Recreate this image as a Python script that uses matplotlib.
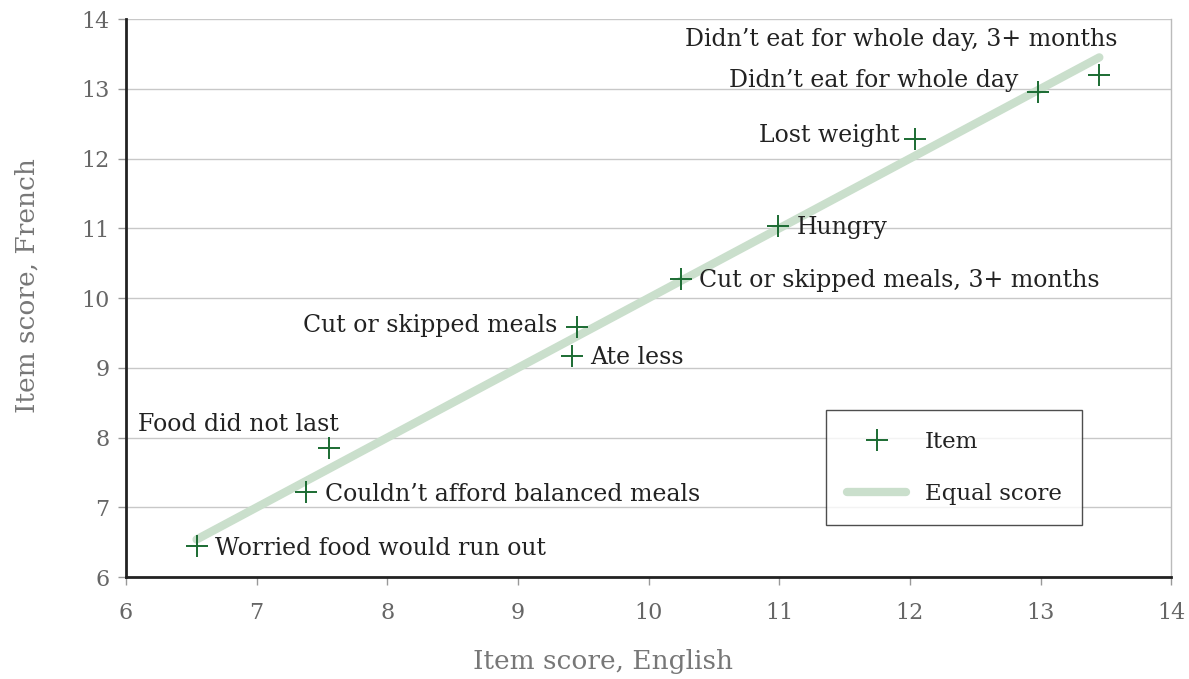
import matplotlib
matplotlib.use("Agg")
import matplotlib.pyplot as plt
from matplotlib.lines import Line2D

items = ["Worried food would run out", "Couldn\u2019t afford balanced meals", "Food did not last",
         "Ate less", "Cut or skipped meals", "Cut or skipped meals, 3+ months", "Hungry",
         "Lost weight", "Didn\u2019t eat for whole day", "Didn\u2019t eat for whole day, 3+ months"]
english = [6.54, 7.38, 7.55, 9.41, 9.45, 10.25, 10.99, 12.04, 12.98, 13.45]
french = [6.44, 7.22, 7.85, 9.17, 9.58, 10.27, 11.03, 12.28, 12.95, 13.20]
x_ticks = [6, 7, 8, 9, 10, 11, 12, 13, 14]
y_ticks = [6, 7, 8, 9, 10, 11, 12, 13, 14]

# label offsets in pixels (dx, dy) and alignment
offsets = [(18, -2, "left"), (19, -2, "left"), (-191, 24, "left"), (19, -2, "left"),
           (-19, 2, "right"), (18, -1, "left"), (19, -1, "left"), (-15, 4, "right"),
           (-20, 12, "right"), (18, 35, "right")]

plt.rcParams['font.family'] = ['DejaVu Serif']
fig = plt.figure(figsize=(11.89, 6.79), dpi=100)
ax = fig.add_axes([0.106, 0.150, 0.879, 0.822])

ax.set_xlim(6, 14)
ax.set_ylim(6, 14)
ax.set_xticks(x_ticks)
ax.set_yticks(y_ticks)
ax.grid(axis='y', color='#c8c8c8', linewidth=1)
ax.set_axisbelow(True)

lo, hi = min(english), max(english)
line_color = '#cadfcc'
mark_color = '#1b6b32'
ax.plot([lo, hi], [lo, hi], color=line_color, linewidth=6, solid_capstyle='round', zorder=2)
ax.plot(english, french, linestyle='none', marker='+', markersize=16, markeredgewidth=1.4,
        color=mark_color, zorder=3)

for name, ex, fr, (dx, dy, ha) in zip(items, english, french, offsets):
    ax.annotate(name, (ex, fr), xytext=(dx, dy), textcoords='offset pixels',
                ha=ha, va='center', fontsize=17, color='#222222')

for s in ['left', 'bottom']:
    ax.spines[s].set_color('#222222')
    ax.spines[s].set_linewidth(2)
ax.spines['right'].set_color('#bbbbbb')
ax.spines['right'].set_linewidth(1)
ax.spines['top'].set_visible(False)

ax.tick_params(axis='both', colors='#999999', labelcolor='#666666', labelsize=16,
               length=6, width=1, direction='out')
ax.tick_params(axis='x', pad=12)
ax.tick_params(axis='y', pad=6)

ax.set_xlabel("Item score, English", fontsize=19, color='#777777', labelpad=18)
ax.set_ylabel("Item score, French", fontsize=19, color='#777777', labelpad=30)
ax.xaxis.label.set_x(0.456)
ax.yaxis.label.set_y(0.523)

handles = [Line2D([], [], linestyle='none', marker='+', markersize=16, markeredgewidth=1.4, color=mark_color),
           Line2D([], [], color=line_color, linewidth=6, solid_capstyle='round')]
leg = ax.legend(handles, ["Item", "Equal score"], loc='upper left', bbox_to_anchor=(0.670, 0.299),
                frameon=True, fancybox=False, edgecolor='#222222', fontsize=16.5,
                handlelength=2.6, labelspacing=1.3, borderpad=0.9, handletextpad=0.8,
                borderaxespad=0)
leg.get_frame().set_linewidth(1)
for t in leg.get_texts():
    t.set_color('#222222')

fig.savefig("out.png", dpi=100)
